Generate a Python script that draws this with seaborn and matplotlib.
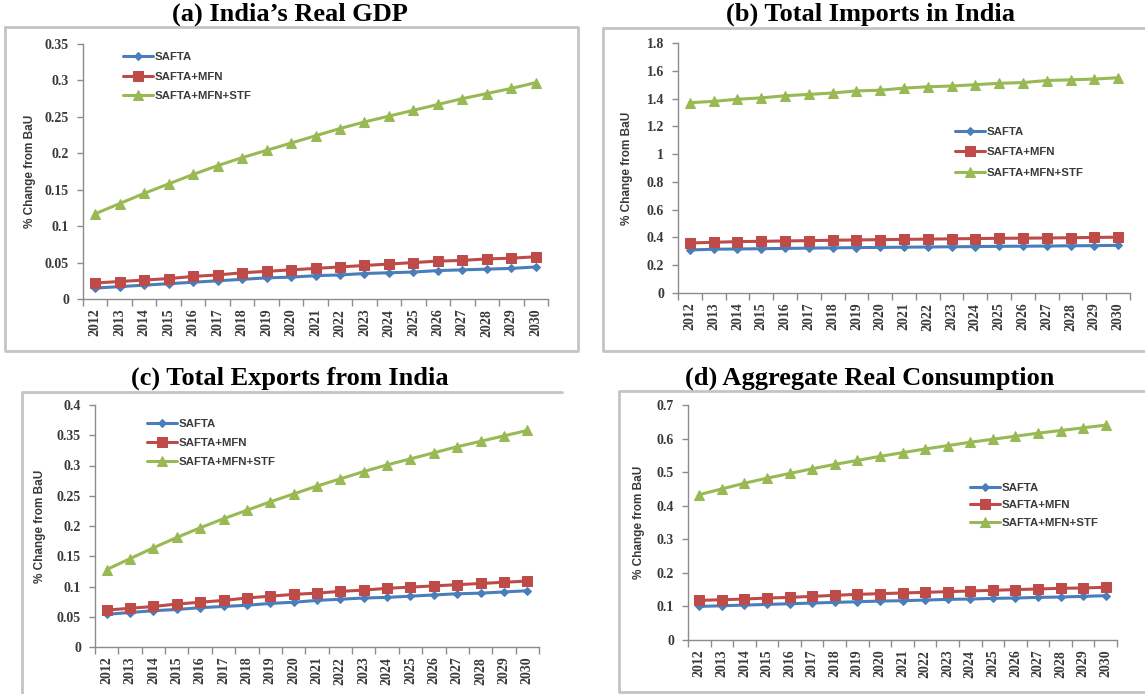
import matplotlib
matplotlib.use("Agg")
import matplotlib.pyplot as plt
import matplotlib.lines as mlines
from matplotlib.ticker import FixedLocator, FuncFormatter
import numpy as np
import seaborn as sns

# ---- data: % change from BaU ------------------------------------------
years = [str(y) for y in range(2012, 2031)]
series_names = ["SAFTA", "SAFTA+MFN", "SAFTA+MFN+STF"]

gdp_safta = [0.015, 0.017, 0.019, 0.021, 0.023, 0.025, 0.027, 0.029, 0.030, 0.032,
             0.033, 0.035, 0.036, 0.037, 0.039, 0.040, 0.041, 0.042, 0.044]
gdp_mfn = [0.022, 0.024, 0.026, 0.028, 0.031, 0.033, 0.036, 0.038, 0.040, 0.042,
           0.044, 0.046, 0.048, 0.050, 0.052, 0.053, 0.055, 0.056, 0.058]
gdp_stf = [0.117, 0.131, 0.145, 0.158, 0.171, 0.183, 0.194, 0.204, 0.214, 0.224,
           0.234, 0.243, 0.251, 0.259, 0.267, 0.275, 0.282, 0.289, 0.297]

imp_safta = [0.310, 0.315, 0.317, 0.319, 0.321, 0.323, 0.325, 0.327, 0.328, 0.330,
             0.331, 0.333, 0.334, 0.336, 0.337, 0.338, 0.340, 0.341, 0.343]
imp_mfn = [0.360, 0.365, 0.370, 0.372, 0.375, 0.377, 0.380, 0.382, 0.384, 0.386,
           0.388, 0.390, 0.392, 0.394, 0.395, 0.396, 0.398, 0.400, 0.402]
imp_stf = [1.370, 1.380, 1.395, 1.405, 1.420, 1.430, 1.440, 1.455, 1.460, 1.475,
           1.485, 1.490, 1.500, 1.510, 1.515, 1.530, 1.535, 1.540, 1.550]

exp_safta = [0.054, 0.057, 0.060, 0.062, 0.065, 0.067, 0.069, 0.072, 0.074, 0.077,
             0.079, 0.081, 0.082, 0.084, 0.086, 0.088, 0.089, 0.091, 0.093]
exp_mfn = [0.061, 0.064, 0.067, 0.071, 0.074, 0.077, 0.081, 0.084, 0.087, 0.089,
           0.092, 0.094, 0.097, 0.099, 0.101, 0.103, 0.105, 0.107, 0.109]
exp_stf = [0.128, 0.146, 0.164, 0.181, 0.197, 0.212, 0.226, 0.240, 0.253, 0.266,
           0.278, 0.290, 0.301, 0.311, 0.321, 0.331, 0.340, 0.349, 0.358]

con_safta = [0.100, 0.102, 0.104, 0.106, 0.108, 0.110, 0.112, 0.114, 0.116, 0.117,
             0.119, 0.121, 0.122, 0.124, 0.125, 0.127, 0.128, 0.130, 0.132]
con_mfn = [0.118, 0.120, 0.122, 0.125, 0.127, 0.130, 0.133, 0.136, 0.138, 0.140,
           0.142, 0.144, 0.146, 0.148, 0.150, 0.152, 0.154, 0.155, 0.157]
con_stf = [0.433, 0.450, 0.467, 0.482, 0.496, 0.510, 0.523, 0.535, 0.547, 0.558,
           0.569, 0.579, 0.589, 0.598, 0.607, 0.616, 0.624, 0.632, 0.640]

titles = ["(a) India\u2019s Real GDP", "(b) Total Imports in India",
          "(c) Total Exports from India", "(d) Aggregate Real Consumption"]
y_label = "% Change from BaU"

# ---- styling -----------------------------------------------------------
sns.set_theme(style="white")
plt.rcParams["font.family"] = ["Liberation Sans", "DejaVu Sans"]

W, H = 1145, 694
colors = ["#4a7ebb", "#be4b48", "#98b954"]
markers = ["D", "s", "^"]
msizes = [4.5, 7, 6.5]
axis_grey = "#8c8c8c"
text_grey = "#3a3a3a"
serif = ["Liberation Serif", "DejaVu Serif"]

fig = plt.figure(figsize=(W / 100, H / 100), dpi=100)


def rect(left, top, right, bottom):
    return [left / W, 1 - bottom / H, (right - left) / W, (bottom - top) / H]


def fig_line(xs, ys):
    fig.add_artist(mlines.Line2D([x / W for x in xs], [1 - y / H for y in ys],
                                 color="#c4c4c4", lw=2, transform=fig.transFigure))


def panel(pos, data, ymax, ystep, title, title_xy, ylab_x, legend_xy, labelspacing):
    ax = fig.add_axes(rect(*pos))
    x = np.arange(len(years))
    for vals, name, c, m, ms in zip(data, series_names, colors, markers, msizes):
        sns.lineplot(x=x, y=vals, ax=ax, color=c, marker=m, markersize=ms,
                     markeredgecolor=c, linewidth=2.2, label=name, legend=False)
    ax.set_xlim(-0.5, len(years) - 0.5)
    ax.set_ylim(0, ymax)
    yt = np.round(np.arange(0, ymax + ystep / 2, ystep), 4)
    ax.yaxis.set_major_locator(FixedLocator(yt))
    ax.yaxis.set_major_formatter(FuncFormatter(lambda v, p: f"{v:g}"))
    ax.set_xticks(x)
    ax.set_xticklabels(years, rotation=90)
    ax.xaxis.set_minor_locator(FixedLocator(np.arange(-0.5, len(years), 1.0)))
    ax.tick_params(axis="x", which="major", length=0, pad=7)
    ax.tick_params(axis="x", which="minor", length=5, width=1, color=axis_grey,
                   direction="out", bottom=True)
    ax.tick_params(axis="y", length=4, width=1, color=axis_grey, direction="out",
                   left=True, pad=6)
    for lab in ax.get_xticklabels() + ax.get_yticklabels():
        lab.set_fontfamily(serif)
        lab.set_fontweight("bold")
        lab.set_fontsize(10)
        lab.set_color(text_grey)
    for s in ["top", "right"]:
        ax.spines[s].set_visible(False)
    for s in ["left", "bottom"]:
        ax.spines[s].set_color(axis_grey)
        ax.spines[s].set_linewidth(1)
    ax.set_facecolor("none")
    ax.set_xlabel("")
    ax.set_ylabel("")
    ax.grid(False)

    fig.text(ylab_x / W, 1 - ((pos[1] + pos[3]) / 2) / H, y_label, rotation=90,
             ha="center", va="center", fontsize=8.5, fontweight="bold", color=text_grey)
    fig.text(title_xy[0] / W, 1 - title_xy[1] / H, title, ha="center", va="center",
             fontsize=19, fontweight="bold", family=serif, color="black")

    leg = ax.legend(loc="upper left", bbox_to_anchor=(legend_xy[0] / W, 1 - legend_xy[1] / H),
                    bbox_transform=fig.transFigure, frameon=False, fontsize=8.2,
                    handlelength=2.6, handletextpad=0.15, labelspacing=labelspacing,
                    borderaxespad=0, borderpad=0)
    for t in leg.get_texts():
        t.set_fontweight("bold")
        t.set_color(text_grey)
    return ax


# panel frames
fig_line([5, 578, 578, 5, 5], [27, 27, 351, 351, 27])
fig_line([1150, 603, 603, 1150], [28, 28, 351, 351])
fig_line([562, 22, 22], [392, 392, 700])
fig_line([1150, 619, 619, 1150], [391, 391, 692, 692])

panel((83, 44, 548, 299), [gdp_safta, gdp_mfn, gdp_stf], 0.35, 0.05,
      titles[0], (290, 14), 30, (123, 52), 0.85)
panel((678, 43, 1130, 293), [imp_safta, imp_mfn, imp_stf], 1.8, 0.2,
      titles[1], (870, 14), 627, (955, 127), 0.9)
panel((95, 405, 539, 647), [exp_safta, exp_mfn, exp_stf], 0.4, 0.05,
      titles[2], (290, 378), 40, (147, 419), 0.78)
panel((688, 405, 1117, 640), [con_safta, con_mfn, con_stf], 0.7, 0.1,
      titles[3], (870, 378), 639, (970, 483), 0.65)

fig.savefig("out.png", dpi=100, facecolor="white")
